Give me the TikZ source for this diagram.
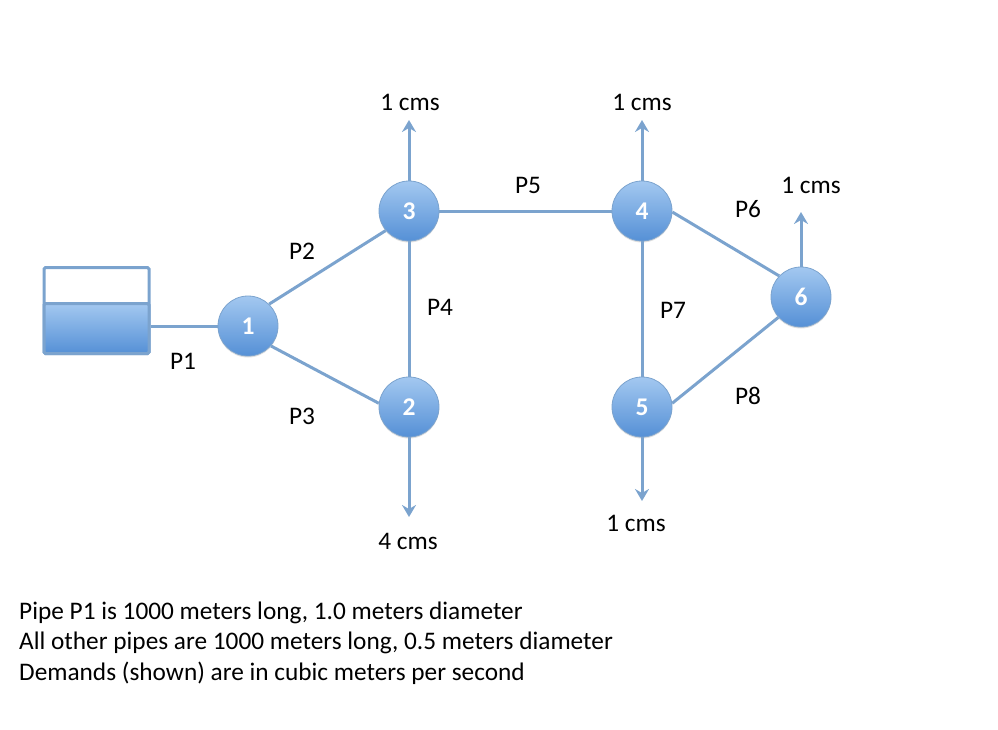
\documentclass[tikz,border=0pt]{standalone}
\usepackage{fontspec}
\setmainfont{Carlito}
\usetikzlibrary{arrows.meta,shadows}
\definecolor{pipeblue}{HTML}{7BA3CE}
\definecolor{nodetop}{HTML}{A3C8F0}
\definecolor{nodebot}{HTML}{5590D6}
\tikzset{
  junction/.style={circle,minimum size=60pt,inner sep=0pt,top color=nodetop,bottom color=nodebot,draw=pipeblue,line width=0.8pt,text=white,font=\fontsize{25.5}{25.5}\selectfont\bfseries,drop shadow={shadow xshift=0pt,shadow yshift=-1.5pt,opacity=.25}},
  pipe/.style={draw=pipeblue,line width=3pt},
  demand/.style={pipe,-{Stealth[length=12pt,width=14pt,inset=4pt]}},
  lbl/.style={inner sep=0pt,text=black,font=\fontsize{25.3}{25.3}\selectfont},
  note/.style={inner sep=0pt,anchor=base west,text=black,font=\fontsize{25.3}{25.3}\selectfont}
}
\begin{document}
\begin{tikzpicture}[x=1pt,y=-1pt]
\useasboundingbox (0,0) rectangle (998,730);
% tank
\node[draw=pipeblue,line width=3pt,rounded corners=1.5pt,minimum width=105pt,minimum height=86pt,inner sep=0pt,anchor=north west] (tank) at (42.5,266) {};
\node[top color=nodetop,bottom color=nodebot,draw=pipeblue,line width=3pt,rounded corners=1.5pt,minimum width=105pt,minimum height=50pt,inner sep=0pt,anchor=north west] (water) at (42.5,302) {};
% junctions
\node[junction] (n1) at (248,326) {1};
\node[junction] (n3) at (409,211) {3};
\node[junction] (n2) at (409,407) {2};
\node[junction] (n4) at (642,211) {4};
\node[junction] (n5) at (642,407) {5};
\node[junction] (n6) at (801,297) {6};
% free ends
\coordinate (d3) at (409,120);
\coordinate (d4) at (642,120);
\coordinate (d2) at (409,517);
\coordinate (d5) at (642,501);
\coordinate (d6) at (801,212);
% pipes
\draw[pipe] (water.east |- n1) -- (n1.west);
\draw[pipe] (n1.46) -- (n3.220);
\draw[pipe] (n1.-41) -- (n2.173);
\draw[pipe] (n3.south) -- (n2.north);
\draw[pipe] (n3.east) -- (n4.west);
\draw[pipe] (n4.south) -- (n5.north);
\draw[pipe] (n4.-2) -- (n6.136);
\draw[pipe] (n5.7) -- (n6.222);
% demands
\draw[demand] (n3.north) -- (d3);
\draw[demand] (n4.north) -- (d4);
\draw[demand] (n2.south) -- (d2);
\draw[demand] (n5.south) -- (d5);
\draw[demand] (n6.north) -- (d6);
% labels
\node[lbl] (p1) at (183,361) {P1};
\node[lbl] (p2) at (302,251) {P2};
\node[lbl] (p3) at (302,416) {P3};
\node[lbl] (p4) at (440,307) {P4};
\node[lbl] (p5) at (528,185) {P5};
\node[lbl] (p6) at (748,209) {P6};
\node[lbl] (p7) at (673,310) {P7};
\node[lbl] (p8) at (748,396) {P8};
\node[lbl] (c3) at (410,102) {1 cms};
\node[lbl] (c4) at (642,102) {1 cms};
\node[lbl] (c6) at (811,185) {1 cms};
\node[lbl] (c5) at (636,523) {1 cms};
\node[lbl] (c2) at (408,541) {4 cms};
\node[note] (t1) at (19,619) {Pipe P1 is 1000 meters long, 1.0 meters diameter};
\node[note] (t2) at (19,649) {All other pipes are 1000 meters long, 0.5 meters diameter};
\node[note] (t3) at (19,680) {Demands (shown) are in cubic meters per second};
\end{tikzpicture}
\end{document}
